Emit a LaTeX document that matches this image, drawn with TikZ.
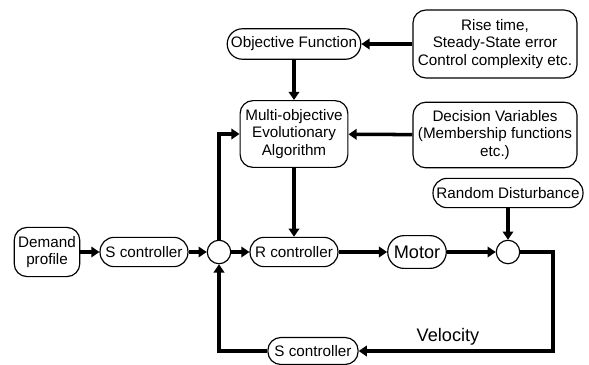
\documentclass[tikz,border=0pt]{standalone}
\usepackage{fontspec}
\setmainfont{Liberation Sans}
\usetikzlibrary{arrows.meta}

\tikzset{
  blk/.style={draw, line width=1pt, rounded corners=11pt, align=center,
    inner sep=2pt, font=\fontsize{13}{15}\selectfont},
  sumj/.style={draw, circle, line width=1pt, minimum size=20pt, inner sep=0pt},
  sig/.style={line width=3pt, -{Triangle[length=7pt,width=9pt]}},
}

\begin{document}
\begin{tikzpicture}[x=.03cm, y=-.03cm]
  \useasboundingbox (0,0) rectangle (589,365);

  % top: objective and goals
  \node[blk, minimum width=114pt, minimum height=26pt, rounded corners=13pt] (obj) at (294,44) {Objective Function};
  \node[blk, minimum width=140pt, minimum height=58pt] (rise) at (495,44) {Rise time,\\Steady-State error\\Control complexity etc.};

  % optimiser
  \node[blk, minimum width=92pt, minimum height=57pt] (moea) at (294,134) {Multi-objective\\Evolutionary\\Algorithm};
  \node[blk, minimum width=140pt, minimum height=56pt] (dec) at (495,135) {Decision Variables\\(Membership functions\\etc.)};
  \node[blk, minimum width=128pt, minimum height=25pt, rounded corners=12pt] (rand) at (508,193) {Random Disturbance};

  % main loop
  \node[blk, minimum width=56pt, minimum height=42pt] (dem) at (47,252) {Demand\\profile};
  \node[blk, minimum width=75pt, minimum height=25pt, rounded corners=12pt] (sc1) at (144,252) {S controller};
  \node[sumj] (j1) at (219,252) {};
  \node[blk, minimum width=75pt, minimum height=25pt, rounded corners=12pt] (rc) at (294,252) {R controller};
  \node[blk, minimum width=50pt, minimum height=28pt, rounded corners=14pt, font=\fontsize{15.5}{17}\selectfont] (mot) at (417,252) {Motor};
  \node[sumj] (j2) at (508,252) {};
  \node[blk, minimum width=77pt, minimum height=23pt, rounded corners=11pt] (sc2) at (313,351) {S controller};
  \node[font=\fontsize{15.5}{17}\selectfont] (vel) at (448,337) {Velocity};
  \coordinate (rt) at (553,252);

  \draw[sig] (rise) -- (obj);
  \draw[sig] (obj) -- (moea);
  \draw[sig] (dec) -- (moea);
  \draw[sig] (moea) -- (rc);
  \draw[sig] (j1.north) |- (moea.west);
  \draw[sig] (dem) -- (sc1);
  \draw[sig] (sc1) -- (j1);
  \draw[sig] (j1) -- (rc);
  \draw[sig] (rc) -- (mot);
  \draw[sig] (mot) -- (j2);
  \draw[sig] (rand) -- (j2);
  \draw[sig] (j2.east) -- (rt) |- (sc2.east);
  \draw[sig] (sc2.west) -| (j1.south);
\end{tikzpicture}
\end{document}
